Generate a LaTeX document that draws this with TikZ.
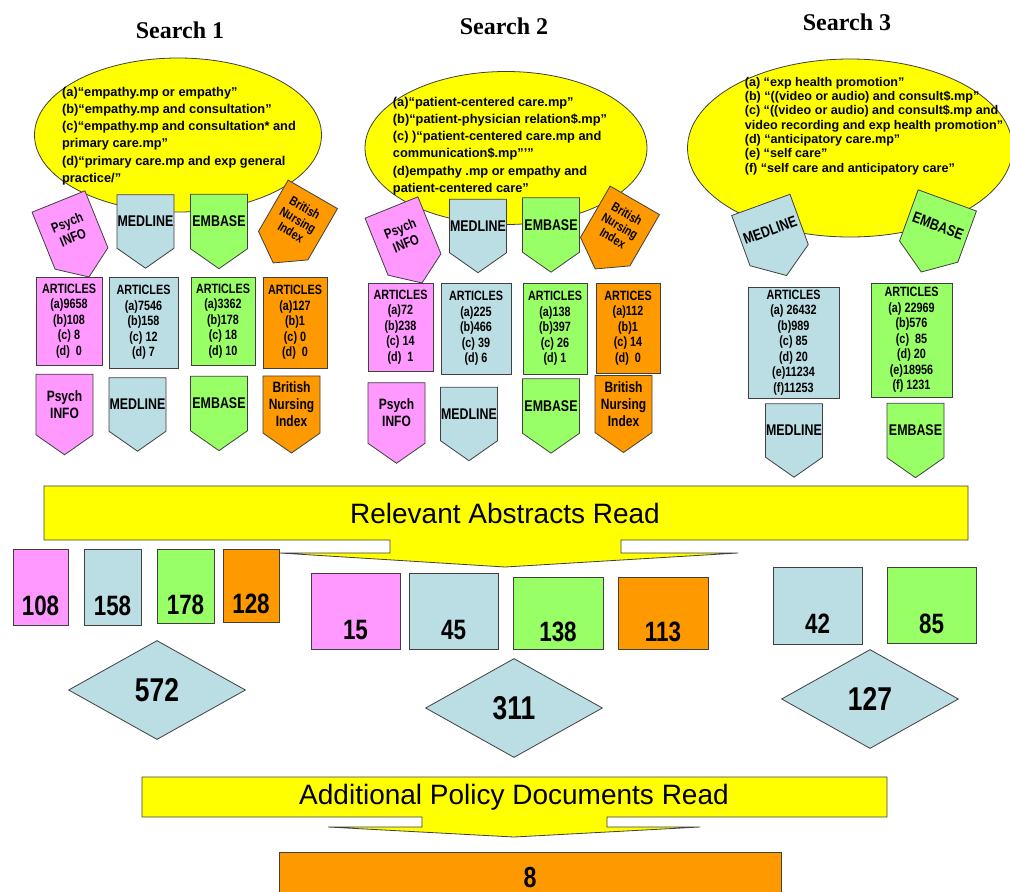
\documentclass[tikz,border=0pt]{standalone}
\usepackage{fontspec}
\setmainfont{Liberation Sans}
\newfontfamily\titlefont{Liberation Serif}
\newfontfamily\narrowfont[FakeStretch=0.8]{Liberation Sans}
\usepackage{tikz}
\usetikzlibrary{
  positioning,
  shapes.geometric,
  shapes.symbols,
}
\definecolor{psychpink}{RGB}{255,153,255}
\definecolor{medblue}{RGB}{187,221,228}
\definecolor{embgreen}{RGB}{153,255,102}
\definecolor{bniorange}{RGB}{255,153,0}
\definecolor{qyellow}{RGB}{255,255,0}
\definecolor{edge}{RGB}{64,64,64}
\tikzset{
  searchtitle/.style={font=\titlefont\bfseries\fontsize{24}{26}\selectfont},
  querybubble/.style={ellipse,draw=edge,line width=0.8pt,fill=qyellow,inner sep=0pt},
  querytext/.style={align=left,inner sep=0pt,font=\bfseries\fontsize{12.8}{17.3}\selectfont},
  dbtag/.style={signal,signal to=south,signal pointer angle=110,draw=edge,line width=0.8pt,
    minimum width=57,minimum height=73,inner sep=0pt,align=center,
    font=\narrowfont\bfseries\fontsize{15.5}{17}\selectfont},
  artbox/.style={rectangle,draw=edge,line width=0.8pt,inner sep=0pt,align=center,
    font=\narrowfont\bfseries\fontsize{13.5}{15.5}\selectfont},
  countbox/.style={rectangle,draw=edge,line width=0.8pt,inner sep=0pt,
    text height=56pt,text depth=0pt,font=\narrowfont\bfseries\fontsize{28}{30}\selectfont},
  totaldiamond/.style={diamond,draw=edge,line width=0.8pt,fill=medblue,inner sep=0pt,
    minimum width=177,minimum height=99,font=\narrowfont\bfseries\fontsize{33}{35}\selectfont},
  bigarrow/.style={draw=edge,line width=0.8pt,fill=qyellow},
  arrowtext/.style={inner sep=0pt,font=\fontsize{28}{30}\selectfont},
}
\begin{document}
\begin{tikzpicture}[x=1pt,y=-1pt]
  \fill[white] (0,0) rectangle (1010,892);
  \useasboundingbox (0,0) rectangle (1010,892);

  \node[searchtitle] (title1) at (180,30) {Search 1};
  \node[searchtitle] (title2) at (504,26) {Search 2};
  \node[searchtitle] (title3) at (847,22) {Search 3};

  % search strings
  \node[querybubble,minimum width=287,minimum height=154] (query1) at (178,135) {};
  \node[querytext] (query1text) at (179,136) {(a)“empathy.mp or empathy”\\(b)“empathy.mp and consultation”\\(c)“empathy.mp and consultation* and\\primary care.mp”\\(d)“primary care.mp and exp general\\practice/”};
  \node[querybubble,minimum width=282,minimum height=153] (query2) at (506,148) {};
  \node[querytext] (query2text) at (500,146) {(a)“patient-centered care.mp”\\(b)“patient-physician relation\$.mp”\\(c) )“patient-centered care.mp and\\communication\$.mp”’”\\(d)empathy .mp or empathy and\\patient-centered care”};
  \node[querybubble,minimum width=325,minimum height=178] (query3) at (850,148) {};
  \node[querytext,font=\bfseries\fontsize{12.6}{14.3}\selectfont] (query3text) at (874,126) {(a) “exp health promotion”\\(b) “((video or audio) and consult\$.mp”\\(c) “((video or audio) and consult\$.mp and\\video recording and exp health promotion”\\(d) “anticipatory care.mp”\\(e) “self care”\\(f) “self care and anticipatory care”};

  % search 1
  \node[dbtag,fill=psychpink,rotate=22,font=\narrowfont\bfseries\fontsize{14}{16}\selectfont] (s1psychtop) at (70,230) {Psych\\INFO};
  \node[dbtag,fill=medblue] (s1medtop) at (145.5,221.5) {MEDLINE};
  \node[dbtag,fill=embgreen] (s1embtop) at (219,221.5) {EMBASE};
  \node[dbtag,fill=bniorange,rotate=-30,font=\narrowfont\bfseries\fontsize{13}{14}\selectfont] (s1bnitop) at (298,220) {British\\Nursing\\Index};

  \node[artbox,fill=psychpink,minimum width=66,minimum height=88] (s1psychart) at (69,321) {ARTICLES\\(a)9658\\(b)108\\(c) 8\\(d)~~0};
  \node[artbox,fill=medblue,minimum width=69,minimum height=91] (s1medart) at (143.5,322.5) {ARTICLES\\(a)7546\\(b)158\\(c) 12\\(d) 7};
  \node[artbox,fill=embgreen,minimum width=64,minimum height=88] (s1embart) at (223,321) {ARTICLES\\(a)3362\\(b)178\\(c) 18\\(d) 10};
  \node[artbox,fill=bniorange,minimum width=64,minimum height=91] (s1bniart) at (295,322.5) {ARTICLES\\(a)127\\(b)1\\(c) 0\\(d)~~0};

  \node[dbtag,fill=psychpink,font=\narrowfont\bfseries\fontsize{15}{17}\selectfont] (s1psych) at (64.5,404.5) {Psych\\INFO};
  \node[dbtag,fill=medblue] (s1med) at (137.5,404.5) {MEDLINE};
  \node[dbtag,fill=embgreen] (s1emb) at (219,403.5) {EMBASE};
  \node[dbtag,fill=bniorange,font=\narrowfont\bfseries\fontsize{15}{17}\selectfont] (s1bni) at (291.5,404.5) {British\\Nursing\\Index};

  % search 2
  \node[dbtag,fill=psychpink,rotate=22,font=\narrowfont\bfseries\fontsize{14}{16}\selectfont] (s2psychtop) at (403,236) {Psych\\INFO};
  \node[dbtag,fill=medblue] (s2medtop) at (478,226) {MEDLINE};
  \node[dbtag,fill=embgreen] (s2embtop) at (551,225) {EMBASE};
  \node[dbtag,fill=bniorange,rotate=-30,font=\narrowfont\bfseries\fontsize{13}{14}\selectfont] (s2bnitop) at (620,226) {British\\Nursing\\Index};

  \node[artbox,fill=psychpink,minimum width=65,minimum height=88] (s2psychart) at (400.5,327) {ARTICLES\\(a)72\\(b)238\\(c) 14\\(d)~~1};
  \node[artbox,fill=medblue,minimum width=70,minimum height=91] (s2medart) at (476,328.5) {ARTICLES\\(a)225\\(b)466\\(c) 39\\(d) 6};
  \node[artbox,fill=embgreen,minimum width=64,minimum height=91] (s2embart) at (555,328.5) {ARTICLES\\(a)138\\(b)397\\(c) 26\\(d) 1};
  \node[artbox,fill=bniorange,minimum width=64,minimum height=90] (s2bniart) at (628,328) {ARTICES\\(a)112\\(b)1\\(c) 14\\(d)~~0};

  \node[dbtag,fill=psychpink,font=\narrowfont\bfseries\fontsize{15}{17}\selectfont] (s2psych) at (396.5,413) {Psych\\INFO};
  \node[dbtag,fill=medblue] (s2med) at (469,414) {MEDLINE};
  \node[dbtag,fill=embgreen] (s2emb) at (551,406) {EMBASE};
  \node[dbtag,fill=bniorange,font=\narrowfont\bfseries\fontsize{15}{17}\selectfont] (s2bni) at (623.5,404) {British\\Nursing\\Index};

  % search 3
  \node[dbtag,fill=medblue,rotate=20,minimum width=62] (s3medtop) at (770,230) {MEDLINE};
  \node[dbtag,fill=embgreen,rotate=-20,minimum width=62] (s3embtop) at (938,226) {EMBASE};

  \node[artbox,fill=medblue,minimum width=91,minimum height=111] (s3medart) at (793.5,342.5) {ARTICLES\\(a) 26432\\(b)989\\(c) 85\\(d) 20\\(e)11234\\(f)11253};
  \node[artbox,fill=embgreen,minimum width=81,minimum height=114] (s3embart) at (911.5,340) {ARTICLES\\(a) 22969\\(b)576\\(c)~~85\\(d) 20\\(e)18956\\(f) 1231};

  \node[dbtag,fill=medblue] (s3med) at (794,430.5) {MEDLINE};
  \node[dbtag,fill=embgreen] (s3emb) at (915.5,430.5) {EMBASE};

  % relevant abstracts
  \draw[bigarrow] (44,486) -- (968,486) -- (968,540) -- (621,540) -- (621,553) -- (738,553)
    -- (505,567) -- (280,553) -- (390,553) -- (390,540) -- (44,540) -- cycle;
  \node[arrowtext] (abstracts) at (505,513) {Relevant Abstracts Read};

  \node[countbox,fill=psychpink,minimum width=55,minimum height=76] (s1psychn) at (40.5,587) {108};
  \node[countbox,fill=medblue,minimum width=57,minimum height=76] (s1medn) at (112.5,587) {158};
  \node[countbox,fill=embgreen,minimum width=57,minimum height=74] (s1embn) at (185.5,586) {178};
  \node[countbox,fill=bniorange,minimum width=56,minimum height=73] (s1bnin) at (251,585.5) {128};

  \node[countbox,fill=psychpink,minimum width=89,minimum height=76] (s2psychn) at (355.5,611) {15};
  \node[countbox,fill=medblue,minimum width=89,minimum height=76] (s2medn) at (453.5,611) {45};
  \node[countbox,fill=embgreen,minimum width=90,minimum height=72] (s2embn) at (558,613) {138};
  \node[countbox,fill=bniorange,minimum width=90,minimum height=72] (s2bnin) at (663,613) {113};

  \node[countbox,fill=medblue,minimum width=89,minimum height=77] (s3medn) at (817.5,605.5) {42};
  \node[countbox,fill=embgreen,minimum width=89,minimum height=76] (s3embn) at (931.5,605) {85};

  \node[totaldiamond] (total1) at (157,690) {572};
  \node[totaldiamond] (total2) at (514,708) {311};
  \node[totaldiamond] (total3) at (870,699) {127};

  % policy documents
  \draw[bigarrow] (142,777) -- (887,777) -- (887,817) -- (607,817) -- (607,827) -- (700,827)
    -- (514,837) -- (328,827) -- (422,827) -- (422,817) -- (142,817) -- cycle;
  \node[arrowtext] (policy) at (514,797) {Additional Policy Documents Read};

  \node[rectangle,draw=edge,line width=0.8pt,fill=bniorange,minimum width=502,minimum height=60,
    text height=10pt,text depth=0pt,font=\narrowfont\bfseries\fontsize{29}{31}\selectfont] (final) at (530,882) {8};
\end{tikzpicture}
\end{document}
